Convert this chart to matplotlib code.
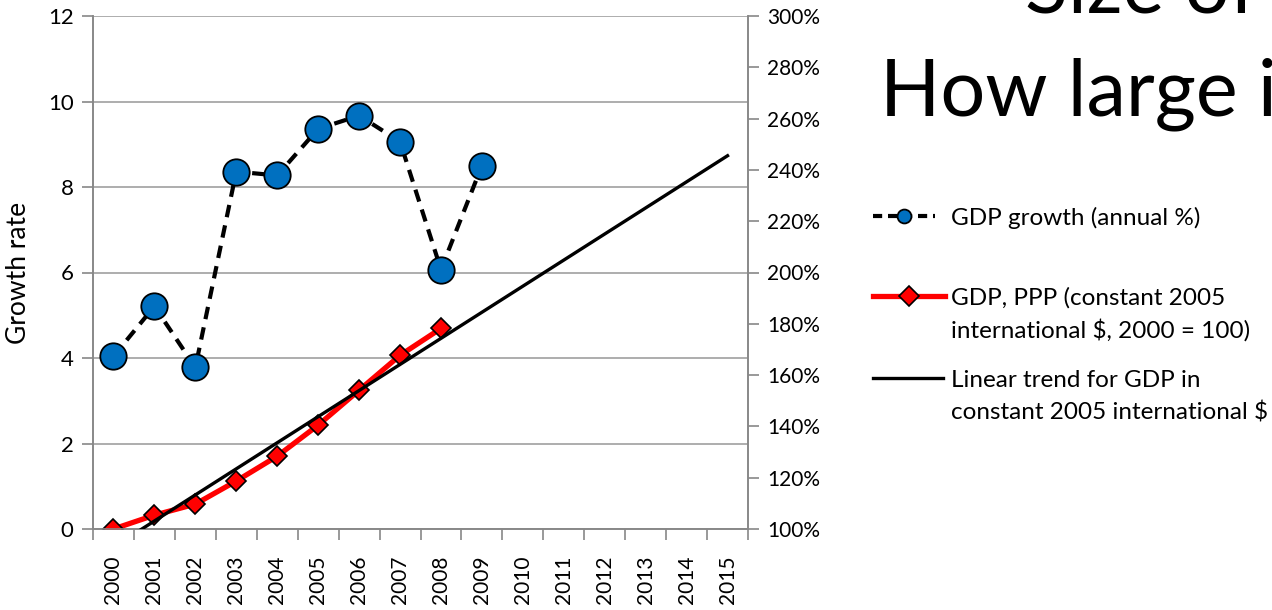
import numpy as np
import matplotlib.pyplot as plt
from matplotlib.lines import Line2D
from matplotlib.ticker import FixedLocator, FuncFormatter

plt.rcParams['font.family'] = ['Lato', 'DejaVu Sans']

years = [str(y) for y in range(2000, 2016)]

# annual GDP growth, %
growth = [4.04, 5.21, 3.78, 8.36, 8.27, 9.36, 9.67, 9.06, 6.07, 8.50]

# GDP, PPP index (2000 = 100)
gdp_index = [100.0, 105.4, 109.7, 118.7, 128.4, 140.5, 154.1, 167.7, 178.2]

# styles shared by the series and the legend keys
growth_style = dict(color='black', lw=3.0, ls=(0, (3, 2)), marker='o', ms=19,
                    mfc='#0070C0', mec='black', mew=1.3)
gdp_style = dict(color='#FF0000', lw=3.8, marker='D', ms=10,
                 mfc='#FF0000', mec='black', mew=1.2)
trend_style = dict(color='black', lw=2.4)

W, H = 1272, 610
fig = plt.figure(figsize=(W / 100, H / 100), dpi=100)
ax = fig.add_axes([93 / W, (H - 529) / H, 655 / W, 513 / H])
ax2 = ax.twinx()

x = np.arange(len(years))
ax.plot(x[:len(growth)], growth, zorder=3, **growth_style)

# linear trend of the index, extended over the whole period
xi = np.arange(len(gdp_index))
k, b = np.polyfit(xi, gdp_index, 1)
ax2.plot(xi, gdp_index, zorder=2, **gdp_style)
ax2.plot(x, k * x + b, zorder=3, **trend_style)

ax.set_xlim(-0.5, len(years) - 0.5)
ax.set_ylim(0, 12)
ax2.set_ylim(100, 300)
ax.set_yticks(np.arange(0, 13, 2))
ax2.set_yticks(np.arange(100, 301, 20))
ax2.yaxis.set_major_formatter(FuncFormatter(lambda v, p: f'{v:.0f}%'))

ax.set_xticks(x)
ax.set_xticklabels(years, rotation=90)
ax.xaxis.set_minor_locator(FixedLocator(np.arange(-0.5, len(years), 1.0)))
ax.tick_params(axis='x', which='major', length=0, pad=19, labelsize=15)
ax.tick_params(axis='x', which='minor', length=8, color='#888888', width=1.2)
ax.tick_params(axis='y', length=8, color='#888888', width=1.2, labelsize=16, pad=6)
ax2.tick_params(axis='y', length=8, color='#888888', width=1.2, labelsize=15, pad=6)

ax.grid(axis='y', color='#A0A0A0', lw=1.2)
ax.set_axisbelow(True)
for a in (ax, ax2):
    a.spines['top'].set_visible(False)
    for s in ('left', 'right', 'bottom'):
        a.spines[s].set_color('#888888')
        a.spines[s].set_linewidth(1.2)
ax.set_ylabel('Growth rate', fontsize=19, labelpad=12)

# legend keys drawn beside the plot
entries = [
    (growth_style, ['GDP growth (annual %)'], 216, 935),
    (gdp_style, ['GDP, PPP (constant 2005', 'international $, 2000 = 100)'], 296, 945),
    (trend_style, ['Linear trend for GDP in', 'constant 2005 international $'], 378, 943),
]
for style, lines, ypx, x1 in entries:
    x0 = 873
    yf = (H - ypx) / H
    kw = dict(style)
    if 'marker' in kw:
        kw['markevery'] = [1]
        kw['ms'] = 10
        if kw['marker'] == 'o':
            kw['ls'] = (0, (2.2, 1.4))
    fig.add_artist(Line2D([x0 / W, (x0 + x1) / 2 / W, x1 / W], [yf, yf, yf],
                          transform=fig.transFigure, **kw))
    for i, line in enumerate(lines):
        fig.text(951 / W, (H - ypx - 9 - 33 * i) / H, line, fontsize=17.5,
                 va='baseline', ha='left')

# slide title text
fig.text(1025 / W, (H - 13) / H, 'Size of the economy', fontsize=57, ha='left',
         va='baseline')
fig.text(880 / W, (H - 115) / H, 'How large is it?', fontsize=57, ha='left',
         va='baseline')

fig.savefig('out.png', dpi=100)
